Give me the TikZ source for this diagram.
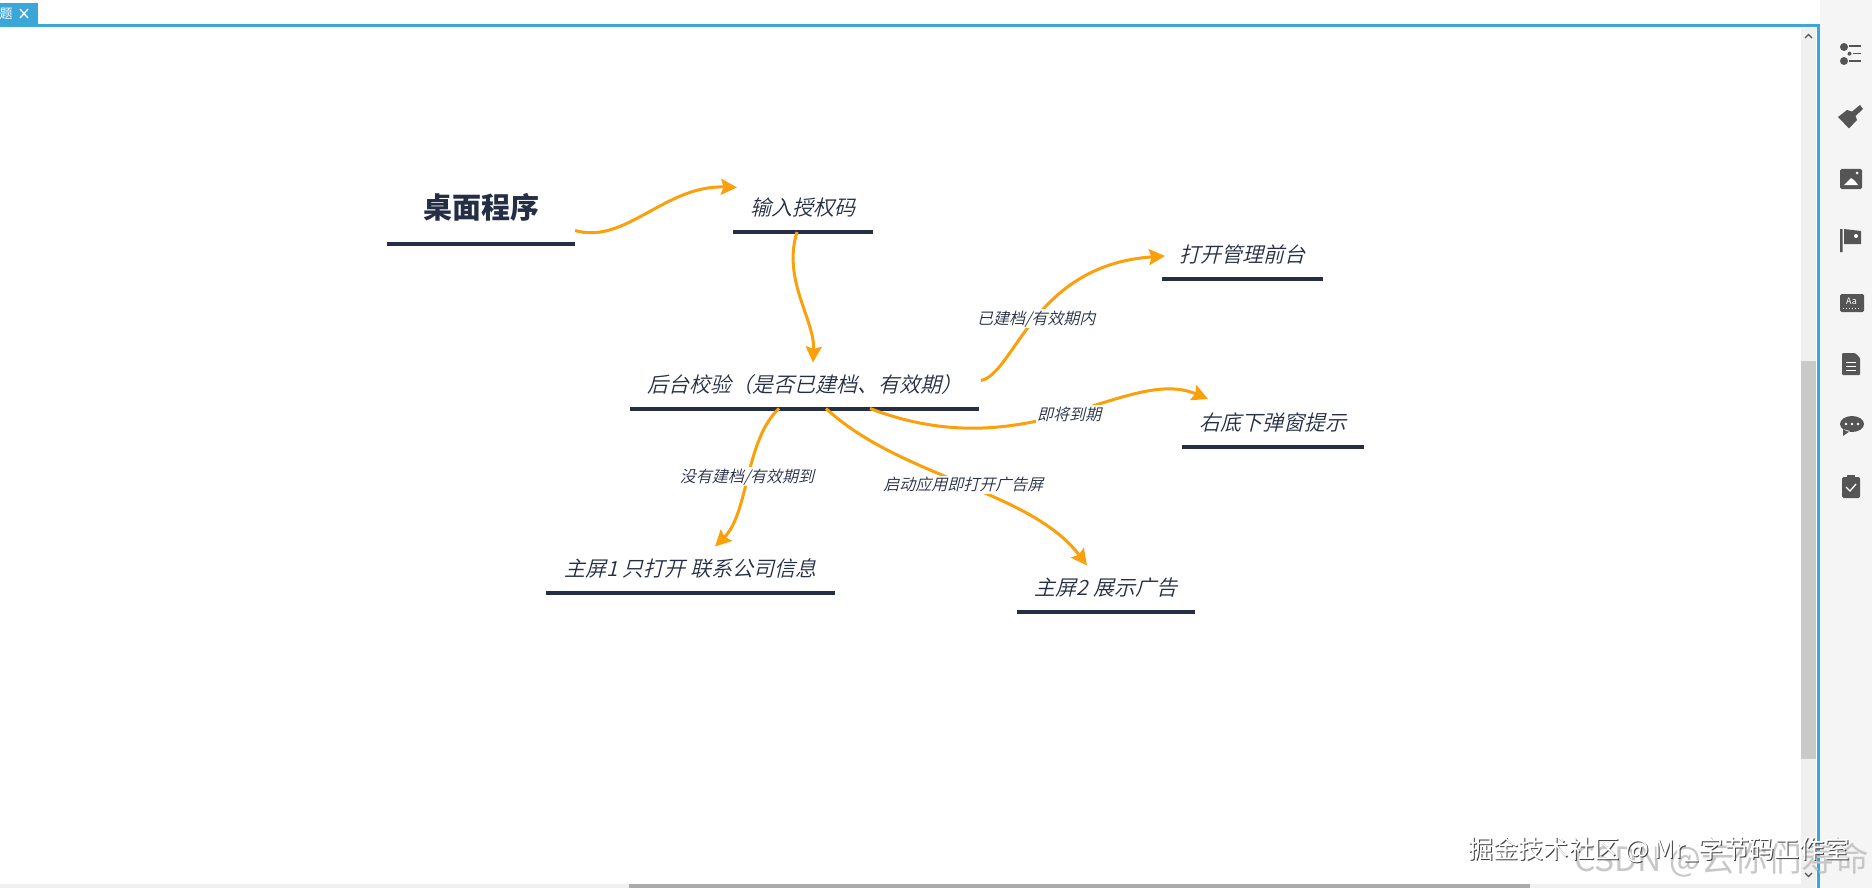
\documentclass[tikz,border=0pt]{standalone}
\usepackage{fontspec}
\setmainfont{Noto Sans CJK SC}
\newfontfamily\slantfont[FakeSlant=0.25]{Noto Sans CJK SC DemiLight}
\usetikzlibrary{positioning,arrows.meta}
\definecolor{ink}{HTML}{242F45}
\definecolor{wire}{HTML}{FB9F0B}
\definecolor{frameblue}{HTML}{3BA7D8}
\definecolor{icongray}{HTML}{555555}
\tikzset{
  topic/.style = {anchor=south west, inner sep=0pt, outer sep=0pt, text=ink, minimum height=48pt,
    font=\slantfont\fontsize{21}{21}\selectfont},
  rule/.style = {draw=ink, line width=4pt},
  link/.style = {draw=wire, line width=3pt, -{Stealth[length=16pt,width=16pt,inset=2.5pt]}},
  linktext/.style = {fill=white, inner sep=1.5pt, text=ink, font=\slantfont\fontsize{16}{16}\selectfont},
  icon/.style = {fill=icongray, draw=none},
}
\begin{document}
\begin{tikzpicture}[x=1pt,y=-1pt]
\useasboundingbox (0,0) rectangle (1872,888);
\fill[white] (0,0) rectangle (1872,888);
% window
\fill[black!4] (1820,0) rectangle (1872,888);
\fill[black!6] (1801,28) rectangle (1816,888);
\fill[black!21] (1801,361) rectangle (1816,759);
\fill[black!6] (0,884) rectangle (1816,888);
\fill[black!33] (629,884) rectangle (1530,888);
\fill[frameblue] (0,3) rectangle (38,24);
\draw[frameblue, line width=3pt] (0,25.5) -- (1818,25.5) -- (1818,888);
\node[text=white, font=\fontsize{13}{13}\selectfont, inner sep=0pt] (tabname) at (6,14) {题};
\draw[white, line width=1.3pt] (20,9) -- (28,18) (28,9) -- (20,18);
\draw[icongray, line width=1.2pt] (1805,38) -- (1808.5,34.5) -- (1812,38);
\draw[icongray, line width=1.2pt] (1805,873) -- (1808.5,876.5) -- (1812,873);
% boxes
\node[topic, minimum width=188pt, minimum height=74pt, font=\bfseries\fontsize{29}{29}\selectfont] (desk) at (387,244) {桌面程序};
\node[topic, minimum width=140pt] (code) at (733,232) {输入授权码};
\node[topic, minimum width=349pt] (check) at (630,408.5) {后台校验（是否已建档、有效期）};
\node[topic, minimum width=161pt] (admin) at (1162,278.5) {打开管理前台};
\node[topic, minimum width=182pt] (popup) at (1182,447) {右底下弹窗提示};
\node[topic, minimum width=289pt] (screenone) at (546,592.5) {主屏1 只打开 联系公司信息};
\node[topic, minimum width=178pt] (screentwo) at (1017,611.5) {主屏2 展示广告};
\foreach \n in {code,check,admin,popup,screenone,screentwo}
  \draw[rule] (\n.south west) -- (\n.south east);
\draw[rule, line width=4.5pt] (desk.south west) -- (desk.south east);
% links
\draw[link] ([yshift=13.5pt]desk.south east) .. controls (625,245) and (665,185) .. ([xshift=4pt,yshift=44.6pt]code.south west);
\draw[link] ([xshift=64pt]code.south west) .. controls (782,280) and (815,320) .. ([xshift=8.5pt,yshift=-2pt]check.north);
\draw[link] ([xshift=2pt,yshift=28pt]check.south east) .. controls (1015,373) and (1033,265)
  .. node[linktext, pos=.5] (linkadmin) {已建档/有效期内} ([xshift=3pt,yshift=22.5pt]admin.south west);
\draw[link] ([xshift=240pt]check.south west) .. controls (1030,470) and (1128,365)
  .. node[linktext, pos=.5] (linkpopup) {即将到期} ([xshift=26pt,yshift=48pt]popup.south west);
\draw[link] ([xshift=149pt]check.south west) .. controls (745,440) and (749,513)
  .. node[linktext, pos=.5] (linkone) {没有建档/有效期到} ([xshift=169pt,yshift=46pt]screenone.south west);
\draw[link] ([xshift=196pt]check.south west) .. controls (901,478) and (1030,490)
  .. node[linktext, pos=.5] (linktwo) {启动应用即打开广告屏} ([xshift=70pt,yshift=46pt]screentwo.south west);
% toolbar
\fill[icon] (1844,47) circle (4) (1844,61) circle (4) (1849.5,53.7) circle (2);
\draw[icongray, line width=1.2pt] (1849,46) -- (1861,46) (1853,53.7) -- (1861,53.7) (1849,61) -- (1861,61);
\fill[icon] (1838,117) -- (1849,128.5) -- (1857,120) -- (1855.5,116) -- (1863,109) -- (1860,105) -- (1852,111.5) -- (1847,110) -- cycle;
\fill[icon, rounded corners=1.5pt] (1840,169) rectangle (1862,189);
\fill[white] (1844,185) -- (1851,178) -- (1855,181) -- (1858,185) -- cycle (1857,173) circle (1.5);
\fill[icon] (1840,229) rectangle (1842.5,252) (1844,229) -- (1861,231) -- (1861,244) -- (1844,244) -- cycle;
\fill[white] (1856,236) circle (2);
\fill[icon, rounded corners=1.5pt] (1840,294) rectangle (1864,312);
\node[text=white, font=\fontsize{9}{9}\selectfont, inner sep=0pt] (fontmark) at (1851.5,301) {Aa};
\draw[white, line width=1pt, dotted] (1843,308.5) -- (1861,308.5);
\fill[icon, rounded corners=1pt] (1842,353) -- (1855,353) -- (1860,358) -- (1860,375) -- (1842,375) -- cycle;
\draw[white, line width=1pt] (1846,362) -- (1856,362) (1846,366) -- (1856,366) (1846,370) -- (1856,370);
\fill[icon] (1852,424) ellipse (12 and 8) (1843,429) -- (1843,436) -- (1850,431) -- cycle;
\fill[white] (1846,424) circle (1.3) (1852,424) circle (1.3) (1858,424) circle (1.3);
\fill[icon, rounded corners=1.5pt] (1842,477) rectangle (1860,498);
\fill[icon] (1847,475) rectangle (1855,479);
\draw[white, line width=1.3pt] (1846,487) -- (1850,491) -- (1856,484);
% marks
\node[text=black!22, font=\fontsize{33.5}{33.5}\selectfont, inner sep=0pt, anchor=east] (markback) at (1869,860) {CSDN @云你们寿命};
\node[text=black!75, font=\fontsize{25.2}{25.2}\selectfont, inner sep=0pt, anchor=west] (markshadow) at (1469,851) {掘金技术社区 @ Mr\_字节码工作室};
\node[text=white, font=\fontsize{25.2}{25.2}\selectfont, inner sep=0pt, anchor=west] (markfront) at (1468,850) {掘金技术社区 @ Mr\_字节码工作室};
\end{tikzpicture}
\end{document}
